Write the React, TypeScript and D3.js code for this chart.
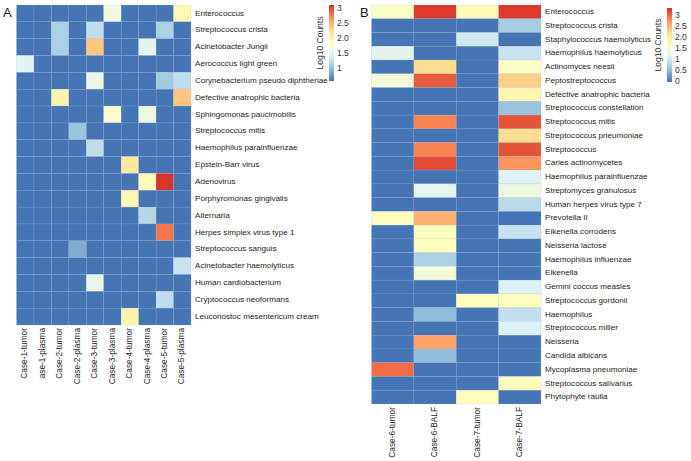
import React from "react"
import * as d3 from "d3"

// pheatmap default palette: rev(brewer.pal(7, "RdYlBu"))
const palette = ["#4575B4", "#91BFDB", "#E0F3F8", "#FFFFBF", "#FEE090", "#FC8D59", "#D73027"]

const samplesA = [
  "Case-1-tumor", "ase-1-plasma", "Case-2-tumor", "Case-2-plasma", "Case-3-tumor",
  "Case-3-plasma", "Case-4-tumor", "Case-4-plasma", "Case-5-tumor", "Case-5-plasma",
]
const taxaA = [
  "Enterococcus", "Streptococcus crista", "Acinetobacter Jungii", "Aerococcus light green",
  "Corynebacterium pseudo diphtheriae", "Defective anatrophic bacteria", "Sphingomonas paucimobilis",
  "Streptococcus mitis", "Haemophilus parainfluenzae", "Epstein-Barr virus", "Adenovirus",
  "Porphyromonas gingivalis", "Alternaria", "Herpes simplex virus type 1", "Streptococcus sanguis",
  "Acinetobacter haemolyticus", "Human cardiobacterium", "Cryptococcus neoformans",
  "Leuconostoc mesentericum cream",
]
const b = 0.58
const valuesA = [
  [b, b, b, b, b, 1.65, b, b, b, 1.95],
  [b, b, 1.15, b, 1.25, b, b, b, 1.15, b],
  [b, b, 1.15, b, 2.4, b, b, 1.5, b, b],
  [1.45, b, b, b, b, b, b, b, b, b],
  [b, b, b, b, 1.55, b, b, b, 1.1, 1.25],
  [b, b, 2.0, b, b, b, b, b, b, 2.4],
  [b, b, b, b, b, 1.75, b, 1.6, b, b],
  [b, b, b, 1.05, b, b, b, b, b, b],
  [b, b, b, b, 1.25, b, b, b, b, b],
  [b, b, b, b, b, b, 2.15, b, b, b],
  [b, b, b, b, b, b, b, 1.9, 3.1, b],
  [b, b, b, b, b, b, 1.95, b, b, b],
  [b, b, b, b, b, b, b, 1.2, b, b],
  [b, b, b, b, b, b, b, b, 2.8, b],
  [b, b, b, 0.9, b, b, b, b, b, b],
  [b, b, b, b, b, b, b, b, b, 1.3],
  [b, b, b, b, 1.55, b, b, b, b, b],
  [b, b, b, b, b, b, b, b, 1.25, b],
  [b, b, b, b, b, b, 2.0, b, b, b],
]
const domainA: [number, number] = [0.58, 3.12]
const ticksA = [1, 1.5, 2.0, 2.5, 3]
const tickLabelsA = ["1", "1.5", "2.0", "2.5", "3"]

const samplesB = ["Case-6-tumor", "Case-6-BALF", "Case-7-tumor", "Case-7-BALF"]
const taxaB = [
  "Enterococcus", "Streptococcus crista", "Staphylococcus haemolyticus", "Haemophilus haemolyticus",
  "Actinomyces neesii", "Peptostreptococcus", "Defective anatrophic bacteria",
  "Streptococcus constellation", "Streptococcus mitis", "Streptococcus pneumoniae", "Streptococcus",
  "Caries actinomycetes", "Haemophilus parainfluenzae", "Streptomyces granulosus",
  "Human herpes virus type 7", "Prevotella II", "Eikenella corrodens", "Neisseria lactose",
  "Haemophilus influenzae", "Eikenella", "Gemini coccus measles", "Streptococcus gordonii",
  "Haemophilus", "Streptococcus miller", "Neisseria", "Candida albicans", "Mycoplasma pneumoniae",
  "Streptococcus salivarius", "Phytophyte raulia",
]
const valuesB = [
  [1.6, 3.3, 1.75, 3.3],
  [0, 0, 0, 0.7],
  [0, 0, 1.0, 0],
  [1.2, 0, 0, 0.95],
  [0, 2.25, 0, 1.6],
  [1.45, 3.1, 0, 2.35],
  [0, 0, 0, 1.85],
  [0, 0, 0, 0.6],
  [0, 2.85, 0, 3.15],
  [0, 0, 0, 2.25],
  [0, 2.85, 0, 3.15],
  [0, 3.2, 0, 2.75],
  [0, 0, 0, 1.1],
  [0, 1.2, 0, 1.35],
  [0, 0, 0, 0.85],
  [1.7, 2.55, 0, 0],
  [0, 1.7, 0, 0.95],
  [0, 1.7, 0, 0],
  [0, 0.75, 0, 0],
  [0, 1.45, 0, 0],
  [0, 0, 0, 1.1],
  [0, 0, 1.7, 1.7],
  [0, 0.55, 0, 0.9],
  [0, 0, 0, 1.1],
  [0, 2.65, 0, 0],
  [0, 0.55, 0, 0],
  [3.0, 0, 0, 0],
  [0, 0, 0, 1.7],
  [0, 0, 1.7, 0],
]
const domainB: [number, number] = [0, 3.36]
const ticksB = [0, 0.5, 1, 1.5, 2.0, 2.5, 3]
const tickLabelsB = ["0", "0.5", "1", "1.5", "2.0", "2.5", "3"]

const font = "'Liberation Sans', Arial, sans-serif"

interface IPanel {
  id: string
  letter: string
  samples: string[]
  taxa: string[]
  values: number[][]
  domain: [number, number]
  ticks: number[]
  tickLabels: string[]
  x0: number
  x1: number
  y0: number
  y1: number
  legX: number
  legY0: number
  legY1: number
  letterX: number
}

const Panel: React.FC<IPanel> = (p) => {
  const colorScale = d3.scaleLinear<string>()
    .domain(d3.range(palette.length).map(i => p.domain[0] + (i * (p.domain[1] - p.domain[0])) / (palette.length - 1)))
    .range(palette)
    .interpolate(d3.interpolateRgb)
    .clamp(true)

  const x = d3.scaleBand().domain(p.samples).range([p.x0, p.x1])
  const y = d3.scaleBand().domain(p.taxa).range([p.y0, p.y1])
  const legScale = d3.scaleLinear().domain(p.domain).range([p.legY1, p.legY0])
  const stops = d3.range(0, 1.0001, 0.05)

  return (
    <g>
      <defs>
        <linearGradient id={`grad-${p.id}`} x1="0%" y1="100%" x2="0%" y2="0%">
          {stops.map((t, i) => (
            <stop key={i} offset={`${t * 100}%`}
              stop-color={colorScale(p.domain[0] + t * (p.domain[1] - p.domain[0]))} />
          ))}
        </linearGradient>
      </defs>
      <text x={p.letterX} y={17} fontSize={13} fontFamily={font} fill="#111">{p.letter}</text>
      {p.values.map((row, i) => row.map((v, j) => (
        <rect key={`${i}-${j}`} x={x(p.samples[j])} y={y(p.taxa[i])}
          width={x.bandwidth()} height={y.bandwidth()}
          fill={colorScale(v)} stroke="#9ab0d0" strokeOpacity={0.3} strokeWidth={0.6} />
      )))}
      {p.taxa.map(t => (
        <text key={t} x={p.x1 + 4} y={(y(t) ?? 0) + y.bandwidth() / 2}
          dominantBaseline="middle" fontSize={8.1} fontFamily={font} fill="#222">{t}</text>
      ))}
      {p.samples.map(s => {
        const cx = (x(s) ?? 0) + x.bandwidth() / 2
        const cy = p.y1 + 3
        return (
          <text key={s} transform={`translate(${cx},${cy}) rotate(-90)`} textAnchor="end"
            dominantBaseline="middle" fontSize={8.3} fontFamily={font} fill="#222">{s}</text>
        )
      })}
      <rect x={p.legX} y={p.legY0} width={5} height={p.legY1 - p.legY0} fill={`url(#grad-${p.id})`} />
      {p.ticks.map((t, i) => (
        <text key={i} x={p.legX + 8} y={legScale(t)} dominantBaseline="middle"
          fontSize={8.5} fontFamily={font} fill="#333">{p.tickLabels[i]}</text>
      ))}
      <text transform={`translate(${p.legX - 6},${(p.legY0 + p.legY1) / 2}) rotate(-90)`}
        textAnchor="middle" fontSize={8.5} fontFamily={font} fill="#333">Log10 Counts</text>
    </g>
  )
}

const App: React.FC = () => {
  return (
    <svg width={691} height={461} style={{ position: "absolute", left: 0, top: 0, background: "#fff" }}>
      <Panel id="a" letter="A" samples={samplesA} taxa={taxaA} values={valuesA}
        domain={domainA} ticks={ticksA} tickLabels={tickLabelsA}
        x0={16.5} x1={191} y0={5} y1={325} legX={329} legY0={5} legY1={81} letterX={3} />
      <Panel id="b" letter="B" samples={samplesB} taxa={taxaB} values={valuesB}
        domain={domainB} ticks={ticksB} tickLabels={tickLabelsB}
        x0={371.5} x1={541} y0={5} y1={404} legX={667} legY0={8} legY1={82} letterX={360} />
    </svg>
  )
}

export default App
